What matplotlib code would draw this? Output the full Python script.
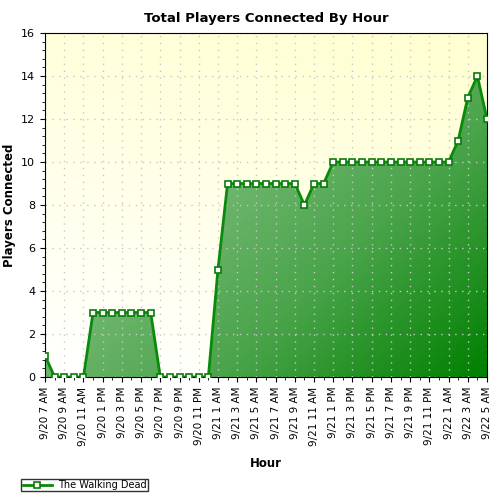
import matplotlib
matplotlib.use("Agg")
import matplotlib.pyplot as plt
import numpy as np
from matplotlib.colors import LinearSegmentedColormap
from matplotlib.ticker import MultipleLocator

values = [1, 0, 0, 0, 0, 3, 3, 3, 3, 3, 3, 3, 0, 0, 0, 0, 0, 0, 5,
          9, 9, 9, 9, 9, 9, 9, 9, 8, 9, 9,
          10, 10, 10, 10, 10, 10, 10, 10, 10, 10, 10, 10, 10, 11, 13, 14, 12]
labels = ["9/20 7 AM", "9/20 9 AM", "9/20 11 AM", "9/20 1 PM", "9/20 3 PM", "9/20 5 PM",
          "9/20 7 PM", "9/20 9 PM", "9/20 11 PM", "9/21 1 AM", "9/21 3 AM", "9/21 5 AM",
          "9/21 7 AM", "9/21 9 AM", "9/21 11 AM", "9/21 1 PM", "9/21 3 PM", "9/21 5 PM",
          "9/21 7 PM", "9/21 9 PM", "9/21 11 PM", "9/22 1 AM", "9/22 3 AM", "9/22 5 AM"]

x = np.arange(len(values))
n = len(values) - 1
fig = plt.figure(figsize=(5, 5), dpi=100)
ax = fig.add_axes([0.09, 0.246, 0.884, 0.688])

# background gradient: yellow at top right, white at bottom left
gx, gy = np.meshgrid(np.linspace(0, 1, 200), np.linspace(0, 1, 200))
bg = LinearSegmentedColormap.from_list("bg", ["#ffffff", "#ffffd0"])
ax.imshow(gy * 0.75 + gx * 0.25, cmap=bg, aspect="auto",
          extent=[0, n, 0, 16], origin="lower", zorder=0)

# fill gradient
poly = ax.fill_between(x, values, 0, color="none")
grad = gx * 0.55 + (1 - gy) * 0.45
cm = LinearSegmentedColormap.from_list("g", ["#c0e0c0", "#7cbc7c", "#4aa44a", "#008000"])
im = ax.imshow(grad, cmap=cm, aspect="auto", extent=[0, n, 0, 16],
               origin="lower", zorder=1)
im.set_clip_path(poly.get_paths()[0], transform=ax.transData)

ax.plot(x, values, color="#0a8a0a", lw=2, marker="s", ms=5, mfc="white",
        mec="#0a7a0a", mew=1.2, zorder=3, label="The Walking Dead")

ax.set_xlim(0, n)
ax.set_ylim(0, 16)
ax.yaxis.set_major_locator(MultipleLocator(2))
ax.yaxis.set_minor_locator(MultipleLocator(0.4))
ax.set_xticks(x[::2])
ax.set_xticklabels(labels, rotation=90, fontsize=7.5)
ax.set_xticks(x, minor=True)
ax.tick_params(axis="y", labelsize=8)
ax.grid(True, which="major", color="#c8c8c8", ls=(0, (1, 4)), lw=1)
for gl in ax.get_xgridlines() + ax.get_ygridlines():
    gl.set_zorder(0.5)
ax.set_title("Total Players Connected By Hour", fontsize=9.5, fontweight="bold", pad=8)
ax.set_ylabel("Players Connected", fontsize=8.5, fontweight="bold")
ax.set_xlabel("Hour", fontsize=8.5, fontweight="bold", labelpad=8)
ax.legend(loc="center left", bbox_to_anchor=(-0.065, -0.314), fontsize=7,
          frameon=True, fancybox=False, edgecolor="black", borderpad=0.15,
          handlelength=3, handletextpad=0.6)
fig.savefig("out.png", dpi=100)
